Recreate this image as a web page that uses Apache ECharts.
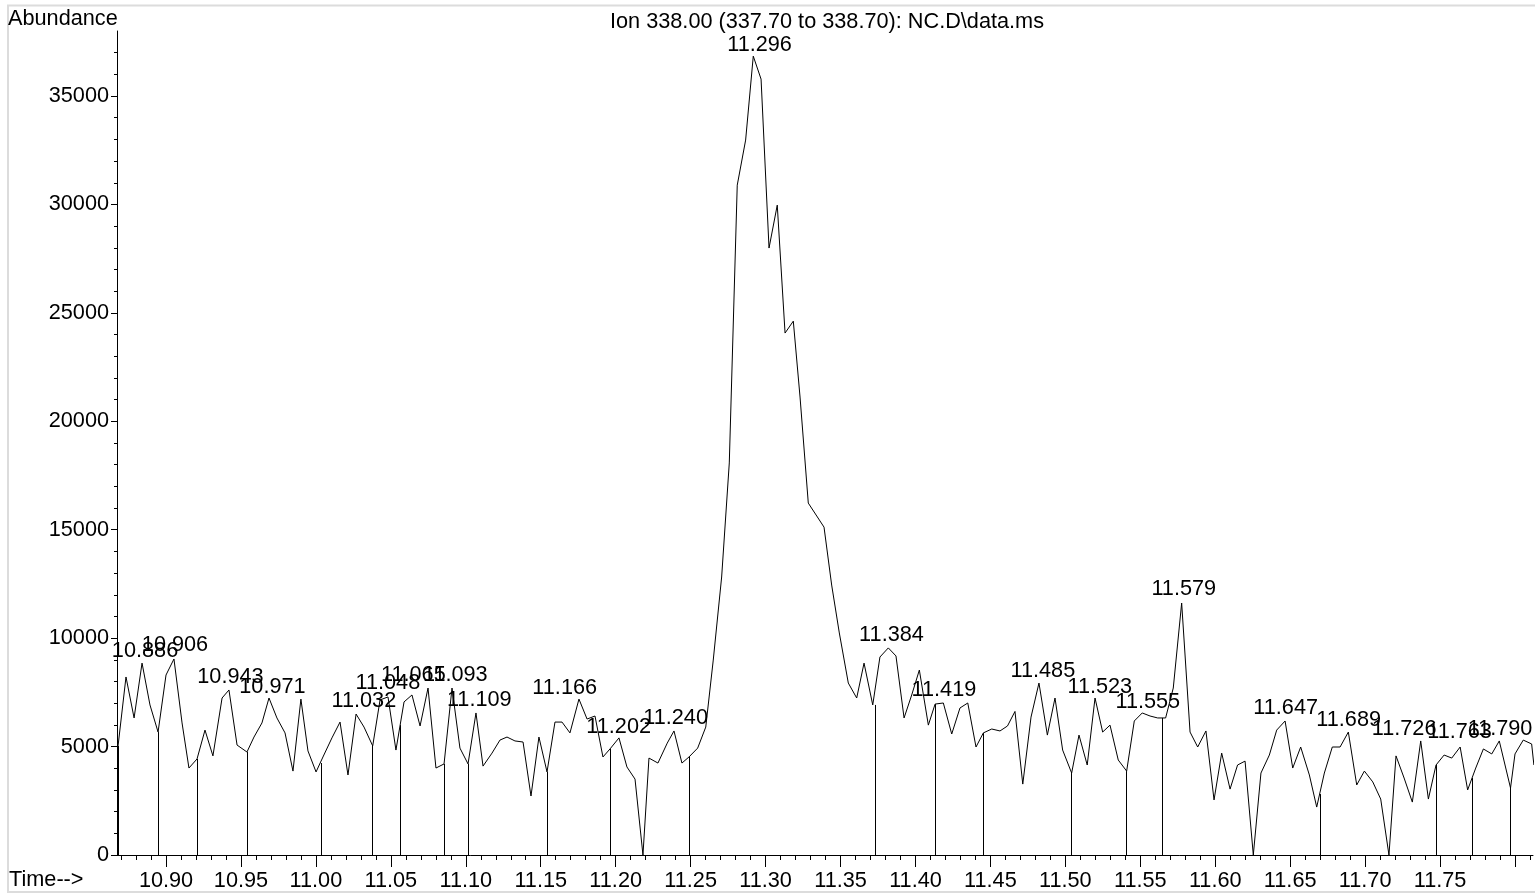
<!DOCTYPE html>
<html>
<head>
<meta charset="utf-8">
<title>Ion 338.00 (337.70 to 338.70): NC.D\data.ms</title>
<script src="https://cdn.jsdelivr.net/npm/echarts@6/dist/echarts.min.js"></script>
<style>
  html, body { margin: 0; padding: 0; background: #fff; }
  #chart { width: 1535px; height: 894px; }
</style>
</head>
<body>
<div id="chart"></div>
<script>
// scan times (min)
const times = [
  10.868, 10.8733, 10.8787, 10.884, 10.8893, 10.8947, 10.900, 10.9053, 10.9107, 10.9153,
  10.9207, 10.926, 10.9313, 10.9374, 10.942, 10.9474, 10.954, 10.9587, 10.964, 10.9687,
  10.974, 10.9794, 10.9847, 10.990, 10.9947, 11.0001, 11.0047, 11.0107, 11.0161, 11.0214,
  11.0268, 11.0321, 11.0379, 11.0428, 11.0481, 11.0534, 11.0588, 11.0641, 11.0695, 11.0748,
  11.0801, 11.0855, 11.0908, 11.0961, 11.1015, 11.1068, 11.1115, 11.1175, 11.1228, 11.1275,
  11.1328, 11.1382, 11.1435, 11.1488, 11.1542, 11.1595, 11.1642, 11.1695, 11.1755, 11.1809,
  11.1862, 11.1915, 11.1962, 11.2022, 11.2075, 11.2129, 11.2182, 11.2222, 11.2282, 11.2344,
  11.2389, 11.2442, 11.2489, 11.2547, 11.2601, 11.2651, 11.2707, 11.2758, 11.2811, 11.2867,
  11.2918, 11.2970, 11.3023, 11.3078, 11.3130, 11.3185, 11.3230, 11.3285, 11.3337, 11.3390,
  11.3441, 11.3492, 11.3552, 11.3608, 11.3657, 11.3715, 11.3763, 11.3819, 11.3870, 11.3924,
  11.3975, 11.4026, 11.4086, 11.4131, 11.4186, 11.4242, 11.4297, 11.4349, 11.4404, 11.4453,
  11.4509, 11.4564, 11.4614, 11.4664, 11.4716, 11.4771, 11.4824, 11.4880, 11.4931, 11.4982,
  11.5042, 11.5091, 11.5146, 11.5198, 11.5249, 11.5298, 11.5353, 11.5409, 11.5460, 11.5513,
  11.5565, 11.5616, 11.5669, 11.5720, 11.5776, 11.5832, 11.5883, 11.5938, 11.5992, 11.6043,
  11.6099, 11.6149, 11.6199, 11.6254, 11.6305, 11.6361, 11.6410, 11.6466, 11.6517, 11.6570,
  11.6628, 11.6677, 11.6728, 11.6781, 11.6833, 11.6888, 11.6944, 11.6995, 11.7051, 11.7104,
  11.7159, 11.7206, 11.7260, 11.7315, 11.7371, 11.7422, 11.7473, 11.7527, 11.7578, 11.7634,
  11.7684, 11.7738, 11.7789, 11.7845, 11.7895, 11.797, 11.8000, 11.8055, 11.8111, 11.8126
];

// abundance at each scan
const abundance = [
  5030, 8210, 6320, 8850, 6920, 5670, 8300, 9040, 6090, 4010,
  4430, 5760, 4570, 7240, 7610, 5070, 4750, 5440, 6090, 7240,
  6320, 5630, 3870, 7190, 4800, 3830, 4520, 5400, 6130, 3690,
  6500, 5900, 5030, 7150, 7290, 4840, 7060, 7380, 5950, 7700,
  4010, 4200, 7700, 4930, 4200, 6550, 4100, 4700, 5300, 5440,
  5260, 5210, 2720, 5440, 3830, 6130, 6130, 5630, 7190, 6270,
  6410, 4520, 4890, 5400, 4060, 3500, 0, 4470, 4240, 5160,
  5720, 4240, 4520, 4930, 5900, 8990, 12820, 18080, 30890, 32970,
  36840, 35780, 27990, 29970, 24070, 24620, 21120, 16230, 15680, 15120,
  12450, 10240, 7930, 7240, 8850, 6920, 9130, 9550, 9180, 6320,
  7380, 8530, 5990, 6960, 7010, 5580, 6780, 7010, 4980, 5630,
  5810, 5720, 5950, 6620, 3270, 6360, 7930, 5530, 7240, 4840,
  3780, 5530, 4150, 7240, 5670, 5990, 4380, 3870, 6180, 6550,
  6410, 6320, 6320, 7700, 11620, 5670, 4980, 5720, 2540, 4700,
  3040, 4150, 4330, 0, 3780, 4610, 5760, 6180, 4010, 4980,
  3690, 2210, 3780, 4980, 4980, 5670, 3230, 3870, 3370, 2580,
  0, 4570, 3550, 2440, 5260, 2580, 4150, 4610, 4470, 4980,
  3000, 4010, 4890, 4660, 5260, 3090, 4660, 5300, 5120, 4150
];

// peak apex labels (retention time printed above each apex)
const peakTimes = [10.886, 10.906, 10.943, 10.971, 11.032, 11.048, 11.065, 11.093, 11.109, 11.166,
  11.202, 11.240, 11.296, 11.384, 11.419, 11.485, 11.523, 11.555, 11.579, 11.647,
  11.689, 11.726, 11.763, 11.790];
const peakHeights = [8880, 9180, 7700, 7260, 6580, 7420, 7780, 7780, 6660, 7190,
  5400, 5790, 36850, 9640, 7120, 8000, 7260, 6570, 11740, 6290,
  5740, 5300, 5160, 5300];

// integration baseline drops (start/end of each peak)
const dropTimes = [10.868, 10.8947, 10.9207, 10.954, 11.0039, 11.0379, 11.0561, 11.0855, 11.1015, 11.1542,
  11.1962, 11.2489, 11.3730, 11.4131, 11.4453, 11.5042, 11.5409, 11.5645, 11.6702, 11.7473,
  11.7716, 11.797];
const dropHeights = [5030, 5670, 4430, 4750, 4240, 5030, 5990, 4200, 4200, 3830,
  4890, 4520, 6920, 6960, 5630, 3780, 3870, 6320, 2810, 4150,
  3550, 3090];

// axis ticks
const xMajorTicks = [10.90, 10.95, 11.00, 11.05, 11.10, 11.15, 11.20, 11.25, 11.30, 11.35,
  11.40, 11.45, 11.50, 11.55, 11.60, 11.65, 11.70, 11.75, 11.80];
const xTickLabels = [10.90, 10.95, 11.00, 11.05, 11.10, 11.15, 11.20, 11.25, 11.30, 11.35,
  11.40, 11.45, 11.50, 11.55, 11.60, 11.65, 11.70, 11.75];
const yMajorTicks = [0, 5000, 10000, 15000, 20000, 25000, 30000, 35000];

const xMinorTicks = [];
for (let i = 1087; i <= 1181; i++) xMinorTicks.push(i / 100);
const yMinorTicks = [];
for (let i = 1; i <= 37; i++) yMinorTicks.push(i * 1000);

const X_MIN = 10.8673, X_MAX = 11.812;
const Y_MIN = 0, Y_MAX = 38000;
const FONT = '"Liberation Sans", Arial, sans-serif';
const FS = 21.7;

const chart = echarts.init(document.getElementById('chart'));

chart.setOption({
  animation: false,
  backgroundColor: '#fff',
  grid: { left: 117, right: 2, top: 31, bottom: 39, containLabel: false },
  graphic: [
    { type: 'rect', silent: true, shape: { x: 8, y: 5.5, width: 1540, height: 886.5 },
      style: { fill: 'none', stroke: '#dcdcdc', lineWidth: 2 } },
    { type: 'text', silent: true,
      style: { x: 827, y: 22, text: 'Ion 338.00 (337.70 to 338.70): NC.D\\data.ms',
        font: FS + 'px ' + FONT, fill: '#000', textAlign: 'center', verticalAlign: 'middle' } },
    { type: 'text', silent: true,
      style: { x: 8, y: 19, text: 'Abundance', font: FS + 'px ' + FONT, fill: '#000',
        textAlign: 'left', verticalAlign: 'middle' } },
    { type: 'text', silent: true,
      style: { x: 9, y: 880, text: 'Time-->', font: FS + 'px ' + FONT, fill: '#000',
        textAlign: 'left', verticalAlign: 'middle' } }
  ],
  xAxis: [
    {
      type: 'value', min: X_MIN, max: X_MAX, position: 'bottom',
      axisLine: { show: true, onZero: false, lineStyle: { color: '#000', width: 1 } },
      axisTick: { show: true, length: 12, customValues: xMajorTicks, lineStyle: { color: '#000' } },
      axisLabel: { show: true, customValues: xTickLabels, margin: 15, color: '#000',
        fontSize: FS, fontFamily: FONT, formatter: v => v.toFixed(2) },
      splitLine: { show: false }
    },
    {
      type: 'value', min: X_MIN, max: X_MAX, position: 'bottom',
      axisLine: { show: false },
      axisTick: { show: true, length: 5, customValues: xMinorTicks, lineStyle: { color: '#000' } },
      axisLabel: { show: false },
      splitLine: { show: false }
    }
  ],
  yAxis: [
    {
      type: 'value', min: Y_MIN, max: Y_MAX, position: 'left',
      axisLine: { show: true, onZero: false, lineStyle: { color: '#000', width: 1 } },
      axisTick: { show: true, length: 6, customValues: yMajorTicks, lineStyle: { color: '#000' } },
      axisLabel: { show: true, customValues: yMajorTicks, margin: 8, color: '#000',
        fontSize: FS, fontFamily: FONT, formatter: v => String(v) },
      splitLine: { show: false }
    },
    {
      type: 'value', min: Y_MIN, max: Y_MAX, position: 'left',
      axisLine: { show: false },
      axisTick: { show: true, length: 3, customValues: yMinorTicks, lineStyle: { color: '#000' } },
      axisLabel: { show: false },
      splitLine: { show: false }
    }
  ],
  series: [
    {
      type: 'line',
      data: times.map((t, i) => [t, abundance[i]]),
      showSymbol: false,
      symbol: 'none',
      clip: true,
      lineStyle: { color: '#000', width: 1 },
      silent: true,
      markLine: {
        silent: true,
        symbol: 'none',
        label: { show: false },
        lineStyle: { color: '#000', width: 1, type: 'solid' },
        data: dropTimes.map((t, i) => [{ coord: [t, 0] }, { coord: [t, dropHeights[i]] }])
      }
    },
    {
      type: 'scatter',
      data: peakTimes.map((t, i) => [t, peakHeights[i]]),
      symbolSize: 0,
      silent: true,
      label: {
        show: true, position: 'top', distance: 0,
        fontSize: FS, fontFamily: FONT, color: '#000', opacity: 1,
        formatter: p => p.value[0].toFixed(3)
      }
    }
  ]
});
</script>
</body>
</html>
